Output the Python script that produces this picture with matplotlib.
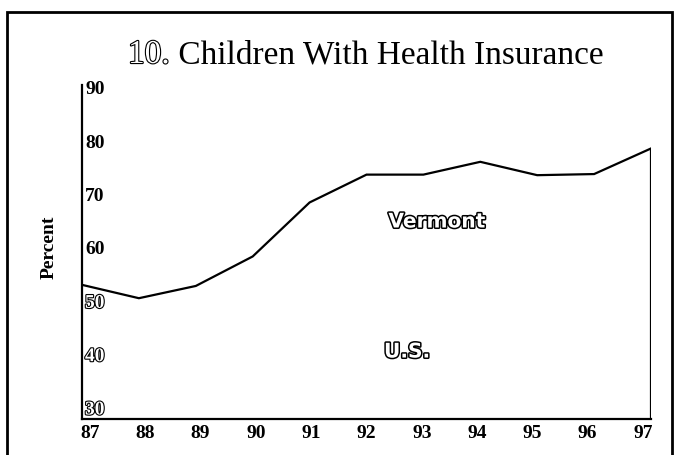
import matplotlib
matplotlib.use("Agg")
import matplotlib.pyplot as plt
import matplotlib.patheffects as pe
from matplotlib.patches import Rectangle
from matplotlib.transforms import blended_transform_factory

# ---- data ----
years = [87, 88, 89, 90, 91, 92, 93, 94, 95, 96, 97]
vermont = [54.1, 51.7, 53.9, 59.2, 68.9, 73.9, 73.9, 76.2, 73.8, 74.0, 78.6]
x_tick_labels = ["87", "88", "89", "90", "91", "92", "93", "94", "95", "96", "97"]
y_tick_values = [90, 80, 70, 60, 50, 40, 30]
hollow_y_labels = [50, 40, 30]
title_num = "10."
title_rest = " Children With Health Insurance"
series_labels = ["Vermont", "U.S."]

W, H = 678, 455
fig = plt.figure(figsize=(W / 100, H / 100), dpi=100)
fig.patch.set_facecolor("white")

# axes placement (pixel based)
ax_l, ax_r, ax_t, ax_b = 82, 651, 85, 419
ax = fig.add_axes([ax_l / W, 1 - ax_b / H, (ax_r - ax_l) / W, (ax_b - ax_t) / H])
ax.set_xlim(years[0], years[-1])
ax.set_ylim(30, 90)
for s in ["top", "right"]:
    ax.spines[s].set_visible(False)
ax.spines["left"].set_linewidth(1.6)
ax.spines["bottom"].set_linewidth(1.6)
ax.set_xticks([])
ax.set_yticks([])

# Vermont line, closed down to the axis on the right
ax.plot(years, vermont, color="black", lw=1.6, solid_joinstyle="miter")
ax.vlines(years[-1], 30, vermont[-1], color="black", lw=1.6)

serif = ["Liberation Serif", "DejaVu Serif"]
hollow = [pe.Stroke(linewidth=1.6, foreground="black"), pe.Normal()]

# x tick labels (spread slightly inside the axis)
px_per_year = (ax_r - ax_l) / (years[-1] - years[0])
xtrans = blended_transform_factory(ax.transData, fig.transFigure)
for i, lab in enumerate(x_tick_labels):
    px = 90 + i * 55.3
    xd = years[0] + (px - ax_l) / px_per_year
    ax.text(xd, 1 - 433 / H, lab, transform=xtrans,
            ha="center", va="center", fontsize=14, fontweight="bold", family=serif)

# y tick labels (inside the axis, right of the spine)
for v in y_tick_values:
    py = 90 + (90 - v) * 5.333
    kw = dict(ha="left", va="center", fontsize=14, fontweight="bold", family=serif,
              transform=fig.transFigure)
    if v in hollow_y_labels:
        fig.text(85 / W, 1 - py / H, str(v), color="white", path_effects=hollow, **kw)
    else:
        fig.text(85 / W, 1 - py / H, str(v), color="black", **kw)

# y axis label
fig.text(49 / W, 1 - 247 / H, "Percent", rotation=90, ha="center", va="center",
         fontsize=14, fontweight="bold", family=serif)

# series labels (outlined)
lab_effects = [pe.Stroke(linewidth=2.2, foreground="black"), pe.Normal()]
fig.text(437 / W, 1 - 222 / H, series_labels[0], ha="center", va="center", color="white",
         fontsize=14.5, fontweight="bold", family=["DejaVu Sans"], path_effects=lab_effects)
fig.text(407 / W, 1 - 352 / H, series_labels[1], ha="center", va="center", color="white",
         fontsize=14.5, fontweight="bold", family=["DejaVu Sans"], path_effects=lab_effects)

# title
t1 = fig.text(128 / W, 1 - 63 / H, title_num, ha="left", va="baseline", color="white",
              fontsize=24, family=serif,
              path_effects=[pe.Stroke(linewidth=1.6, foreground="black"), pe.Normal()])
fig.canvas.draw()
bb = t1.get_window_extent(renderer=fig.canvas.get_renderer())
fig.text(bb.x1 / W, 1 - 63 / H, title_rest, ha="left", va="baseline", color="black",
         fontsize=24, family=serif)

# outer frame
fig.patches.append(Rectangle((7 / W, -0.1), (672 - 7) / W, 1.1 - 12 / H,
                             transform=fig.transFigure, fill=False, edgecolor="black",
                             linewidth=2, figure=fig))

fig.savefig("out.png", dpi=100, facecolor="white")
